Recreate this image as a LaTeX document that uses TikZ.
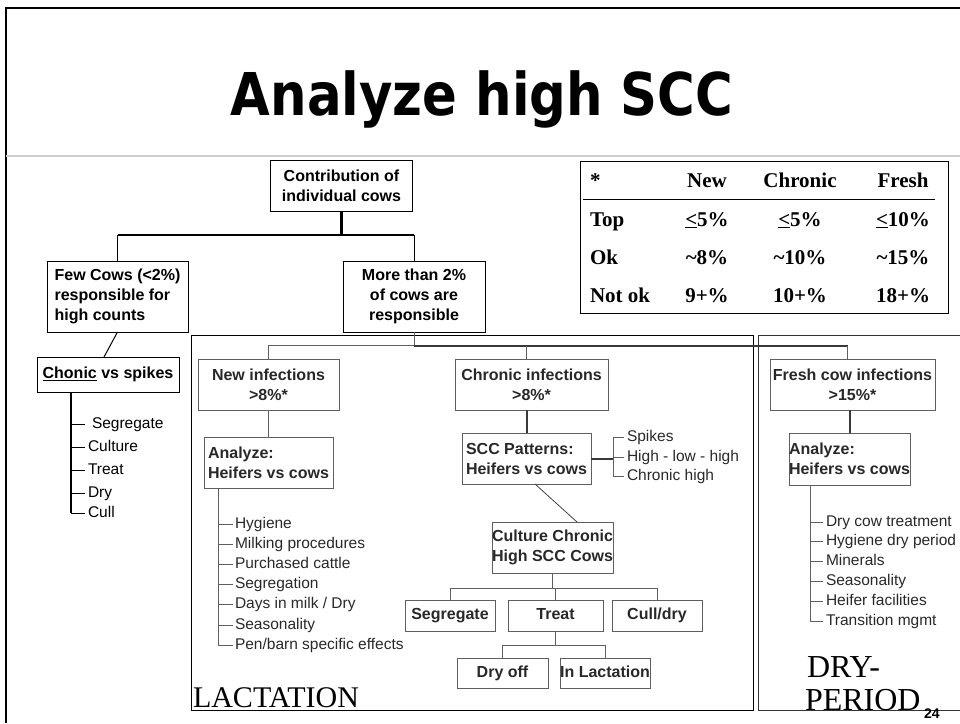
\documentclass[tikz,border=0pt]{standalone}
\usepackage{fontspec}
\setmainfont{Liberation Sans}
\newfontfamily\timesface{Liberation Serif}
\newfontfamily\titleface[FakeStretch=0.87]{DejaVu Sans}
\definecolor{framegray}{RGB}{205, 205, 205}
\definecolor{boxgray}{RGB}{95, 95, 95}
\definecolor{inkgray}{RGB}{40, 40, 40}
\usetikzlibrary{positioning, calc}

\begin{document}
\begin{tikzpicture}[x=1pt, y=-1pt,
  every node/.style={inner sep=0pt, outer sep=0pt},
  mainbox/.style={draw, line width=1pt, font=\fontsize{16}{20}\selectfont\bfseries},
  infbox/.style={draw=boxgray, line width=1pt, text=inkgray, font=\fontsize{16}{20}\selectfont\bfseries},
  oneline/.style={text height=11.5pt, text depth=3.5pt},
  item/.style={anchor=west, text height=11.5pt, text depth=3.5pt, font=\fontsize{15.5}{19}\selectfont},
  greyitem/.style={item, text=inkgray},
  cell/.style={font=\timesface\fontsize{21}{25}\selectfont\bfseries},
  link/.style={line width=1pt},
  heavy/.style={line width=2.5pt},
  dlink/.style={draw=boxgray, line width=1pt},
  dheavy/.style={draw=boxgray!60!black, line width=2pt}]
  \useasboundingbox (0,0) rectangle (960,723);

  % slide frame and title
  \draw[line width=2.5pt] (6,723) -- (6,8) -- (960,8);
  \draw[framegray, line width=1.5pt] (6,156) -- (960,156);
  \node[anchor=base, font=\titleface\bfseries\fontsize{59}{70}\selectfont] (title) at (482,115) {Analyze high SCC};

  % top of the tree
  \node[mainbox, minimum width=142, minimum height=51, align=center] (root) at (341.5,185.5) {Contribution of\\individual cows};
  \node[mainbox, minimum width=141, minimum height=71, align=left] (few) at (117.5,296.5) {Few Cows (<2\%)\\responsible for\\high counts};
  \node[mainbox, minimum width=142, minimum height=71, align=center] (more) at (414,296.5) {More than 2\%\\of cows are\\responsible};
  \draw[heavy] (root.south) -- ++(0,24) coordinate (bar);
  \draw[heavy] (few.north |- bar) -- (more.north |- bar);
  \draw[link] (few.north |- bar) -- (few.north);
  \draw[link] (more.north |- bar) -- (more.north);

  % few cows branch
  \node[mainbox, oneline, minimum width=142, minimum height=35] (chonic) at (108,374.5) {\underline{Chonic} vs spikes};
  \draw[link] (few.south) -- ([xshift=-4]chonic.north);
  \coordinate (cstem) at ([xshift=34]chonic.south west);
  \foreach \txt/\tx/\ty [count=\k] in {Segregate/92/424, Culture/88/447, Treat/88/470, Dry/88/493, Cull/88/513}{
    \node[item] (cv\k) at (\tx,\ty) {\txt};
    \draw[link] (cv\k.west -| cstem) -- ++(14,0);
  }
  \draw[heavy] (cstem) -- (cv5.west -| cstem);

  % goal table
  \node[draw, line width=1pt, minimum width=368, minimum height=152, anchor=north west] (goals) at (580,161) {};
  \draw[link] ($(goals.north west)+(3,38)$) -- ($(goals.north east)+(-13,38)$);
  \foreach \lab/\a/\b/\c/\y [count=\k] in {{*}/New/Chronic/Fresh/187,
      Top/{\underline{<}5\%}/{\underline{<}5\%}/{\underline{<}10\%}/226,
      Ok/{\textasciitilde8\%}/{\textasciitilde10\%}/{\textasciitilde15\%}/264,
      Not ok/{9+\%}/{10+\%}/{18+\%}/302}{
    \node[cell, anchor=base west] (row\k) at (590,\y) {\lab};
    \node[cell, anchor=base] (new\k) at (707,\y) {\a};
    \node[cell, anchor=base] (chr\k) at (800,\y) {\b};
    \node[cell, anchor=base] (fr\k) at (903,\y) {\c};
  }

  % lactation and dry period frames
  \node[draw, line width=0.9pt, minimum width=562, minimum height=375, anchor=north west] (lact) at (191,335) {};
  \node[draw=black!80, line width=0.9pt, minimum width=230, minimum height=375, anchor=north west] (dryp) at (758,335) {};
  \node[anchor=base west, font=\timesface\fontsize{30}{34}\selectfont] (lactlab) at (193,707) {LACTATION};
  \node[anchor=base west, font=\timesface\fontsize{32}{34}\selectfont] (drylab) at (807,677) {DRY-};
  \node[anchor=base west, font=\timesface\fontsize{32}{34}\selectfont] (perlab) at (805,710) {PERIOD};
  \node[anchor=base west, font=\bfseries\fontsize{14}{16}\selectfont] (pgnum) at (924,718) {24};

  % infection boxes
  \node[infbox, minimum width=141, minimum height=51, align=center] (newinf) at (268.5,384.5) {New infections\\>8\%*};
  \node[infbox, minimum width=153, minimum height=51, align=center] (chronic) at (531.5,384.5) {Chronic infections\\>8\%*};
  \node[infbox, minimum width=165, minimum height=51, align=center] (fresh) at (852.5,384.5) {Fresh cow infections\\>15\%*};
  \draw[dlink] (more.south) -- ++(0,13.5) coordinate (hub);
  \draw[dlink] (newinf.north) -- (newinf.north |- hub) -- (hub);
  \draw[dheavy] (hub) -- ([xshift=-5]fresh.north |- hub);
  \draw[dlink] ([xshift=-5]fresh.north |- hub) -- ([xshift=-5]fresh.north);

  % new infections
  \node[infbox, minimum width=129, minimum height=51, align=left] (anlnew) at (268.5,462.5) {Analyze:\\Heifers vs cows};
  \draw[dlink] (newinf.south) -- (anlnew.north);
  \coordinate (nstem) at ([xshift=14]anlnew.south west);
  \foreach \txt [count=\k] in {Hygiene, Milking procedures, Purchased cattle, Segregation, Days in milk / Dry, Seasonality, Pen/barn specific effects}{
    \node[greyitem] (nf\k) at (235,{524+20.2*(\k-1)}) {\txt};
    \draw[dlink] (nf\k.west -| nstem) -- ([xshift=-2]nf\k.west);
  }
  \draw[dlink] (nstem) -- (nf7.west -| nstem);

  % chronic infections
  \node[infbox, minimum width=129, minimum height=51, align=left] (scc) at (526.5,458.5) {SCC Patterns:\\Heifers vs cows};
  \draw[dlink] (scc.north |- hub) -- (scc.north |- chronic.north);
  \draw[dheavy] (scc.north |- chronic.south) -- (scc.north);
  \draw[dheavy] (scc.east) -- ++(22,0) coordinate (bk);
  \foreach \txt/\ty [count=\k] in {Spikes/437, High - low - high/457, Chronic high/476}{
    \node[greyitem] (pat\k) at (627,\ty) {\txt};
    \draw[dlink] (pat\k.west -| bk) -- ([xshift=-3]pat\k.west);
  }
  \draw[dlink] (pat1.west -| bk) -- (pat3.west -| bk);

  \node[infbox, minimum width=121, minimum height=51, align=center] (culture) at (552.5,547.5) {Culture Chronic\\High SCC Cows};
  \draw[line width=0.8pt, boxgray!70!black] ([xshift=8.5]scc.south) -- ([xshift=24.5]culture.north);
  \node[infbox, oneline, minimum width=90, minimum height=31] (segr) at (450,615.5) {Segregate};
  \node[infbox, oneline, minimum width=95, minimum height=31] (treat) at (555.5,615.5) {Treat};
  \node[infbox, oneline, minimum width=90, minimum height=31] (cull) at (657,615.5) {Cull/dry};
  \draw[dlink] (culture.south) -- ++(0,15) coordinate (cb);
  \draw[dlink] (segr.north) |- (cb) -| (cull.north);
  \draw[dlink] (cb) -- (treat.north |- cb) -- (treat.north);
  \node[infbox, oneline, minimum width=91, minimum height=30] (dryoff) at (502.5,673) {Dry off};
  \node[infbox, oneline, minimum width=90, minimum height=30] (inlact) at (605,673) {In Lactation};
  \draw[dlink] (treat.south) -- ++(0,14) coordinate (tb);
  \draw[dlink] (dryoff.north) |- (tb) -| (inlact.north);

  % fresh cow infections
  \node[infbox, minimum width=121, minimum height=52, align=left] (anlfresh) at (849.5,459) {Analyze:\\Heifers vs cows};
  \draw[dheavy] (anlfresh.north |- fresh.south) -- (anlfresh.north);
  \coordinate (fstem) at ([xshift=21]anlfresh.south west);
  \foreach \txt [count=\k] in {Dry cow treatment, Hygiene dry period, Minerals, Seasonality, Heifer facilities, Transition mgmt}{
    \node[greyitem] (fc\k) at (826,{522+19.8*(\k-1)}) {\txt};
    \draw[dlink] (fc\k.west -| fstem) -- ([xshift=-3]fc\k.west);
  }
  \draw[dlink] (fstem) -- (fc6.west -| fstem);
\end{tikzpicture}
\end{document}
